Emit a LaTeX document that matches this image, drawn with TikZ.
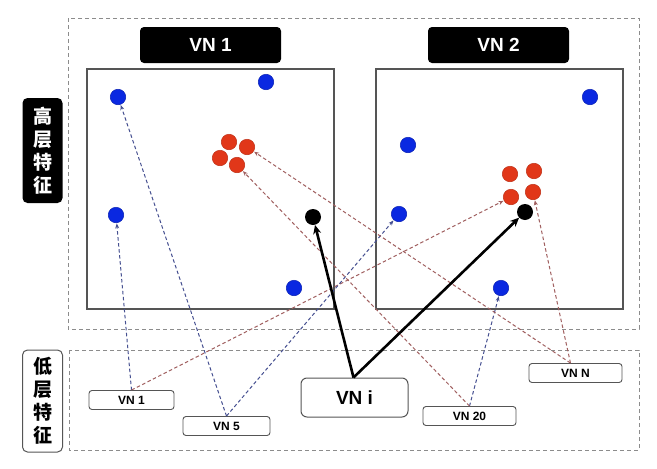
\documentclass[tikz,border=0pt]{standalone}
\usepackage{fontspec}
\setmainfont{Liberation Sans}
\newfontfamily\cjk{Noto Sans CJK SC}
\usetikzlibrary{arrows.meta}
\definecolor{bluedot}{RGB}{10,40,225}
\definecolor{reddot}{RGB}{225,55,25}
\definecolor{blueline}{RGB}{70,80,145}
\definecolor{redline}{RGB}{160,95,95}
\definecolor{boxgray}{RGB}{85,85,85}
\definecolor{dashgray}{RGB}{140,140,140}
\begin{document}
\begin{tikzpicture}[x=1pt,y=-1pt,
  outerdash/.style={draw=dashgray, line width=0.9pt, dash pattern=on 4pt off 3pt},
  panel/.style={draw=boxgray, line width=1.1pt},
  header/.style={fill=black, rounded corners=4pt, minimum width=141pt, minimum height=36pt, inner sep=0pt,
    text=white, font=\bfseries\fontsize{19}{22}\selectfont},
  sidelabel/.style={rounded corners=5pt, minimum width=40pt, minimum height=105pt, inner sep=0pt, align=center,
    font=\cjk\bfseries\fontsize{19}{23}\selectfont},
  lowbox/.style={draw=boxgray, line width=0.9pt, fill=white, rounded corners=3pt, minimum width=85pt, minimum height=19pt,
    inner sep=0pt, font=\bfseries\fontsize{12}{14}\selectfont},
  bigbox/.style={draw=boxgray, line width=1pt, fill=white, rounded corners=6pt, minimum width=107pt, minimum height=39pt,
    inner sep=0pt, font=\bfseries\fontsize{19}{22}\selectfont},
  bdot/.style={circle, fill=bluedot, draw=bluedot!80!black, line width=0.5pt, minimum size=15.5pt, inner sep=0pt},
  rdot/.style={circle, fill=reddot, draw=reddot!85!black, line width=0.5pt, minimum size=15.5pt, inner sep=0pt},
  kdot/.style={circle, fill=black, minimum size=16pt, inner sep=0pt},
  bluearrow/.style={draw=blueline, line width=1pt, dash pattern=on 3.5pt off 2.5pt, -{Stealth[length=5pt,width=4pt]}, shorten >=0.5pt},
  redarrow/.style={draw=redline, line width=1pt, dash pattern=on 3.5pt off 2.5pt, -{Stealth[length=5pt,width=4pt]}, shorten >=0.5pt},
  blackarrow/.style={draw=black, line width=2.6pt, -{Stealth[length=9pt,width=8pt]}}
]
\useasboundingbox (0,0) rectangle (657,469);
\fill[white] (0,0) rectangle (657,469);

% dashed regions
\draw[outerdash] (68,18) rectangle (639,329);
\draw[outerdash] (69,350) rectangle (639,450);

% side labels
\node[sidelabel, fill=black, text=white] (high) at (42.5,150.5) {高\\层\\特\\征};
\node[sidelabel, draw=boxgray, line width=1pt, fill=white, minimum height=102pt] (low) at (42.5,401) {低\\层\\特\\征};

% headers
\node[header] (h1) at (210.5,45) {VN 1};
\node[header] (h2) at (498.5,45) {VN 2};

% panels
\draw[panel] (87,69) rectangle (334,309);
\draw[panel] (376,69) rectangle (623,309);

% dots panel 1
\node[bdot] (b1a) at (118,97) {};
\node[bdot] (b1b) at (266,82) {};
\node[bdot] (b1c) at (116,215) {};
\node[bdot] (b1d) at (294,288) {};
\node[rdot] (r1a) at (229,142) {};
\node[rdot] (r1b) at (247,147) {};
\node[rdot] (r1c) at (220,158) {};
\node[rdot] (r1d) at (237,165) {};
\node[kdot] (k1) at (313,217) {};

% dots panel 2
\node[bdot] (b2a) at (590,97) {};
\node[bdot] (b2b) at (408,145) {};
\node[bdot] (b2c) at (399,214) {};
\node[bdot] (b2d) at (501,288) {};
\node[rdot] (r2a) at (510,174) {};
\node[rdot] (r2b) at (534,171) {};
\node[rdot] (r2c) at (511,197) {};
\node[rdot] (r2d) at (533,192) {};
\node[kdot] (k2) at (525,212) {};

% low-level nodes
\node[lowbox] (n1) at (131.5,400) {VN 1};
\node[lowbox, minimum width=87pt] (n5) at (226.5,426) {VN 5};
\node[bigbox] (ni) at (354.5,397.5) {VN i};
\node[lowbox, minimum width=93pt] (n20) at (469.5,416) {VN 20};
\node[lowbox, minimum width=93pt] (nN) at (575.5,373) {VN N};

% connectors
\draw[bluearrow] (n1.north) -- (b1c);
\draw[redarrow] (n1.north) -- (r2c);
\draw[bluearrow] (n5.north) -- (b1a);
\draw[bluearrow] (n5.north) -- (b2c);
\draw[bluearrow] (n20.north) -- (b2d);
\draw[redarrow] (n20.north) -- (r1d);
\draw[redarrow] ([xshift=-5pt]nN.north) -- (r1b);
\draw[redarrow] ([xshift=-5pt]nN.north) -- (r2d);
\draw[blackarrow] ([xshift=-1pt]ni.north) -- (k1);
\draw[blackarrow] ([xshift=-1pt]ni.north) -- (k2);
\end{tikzpicture}
\end{document}
